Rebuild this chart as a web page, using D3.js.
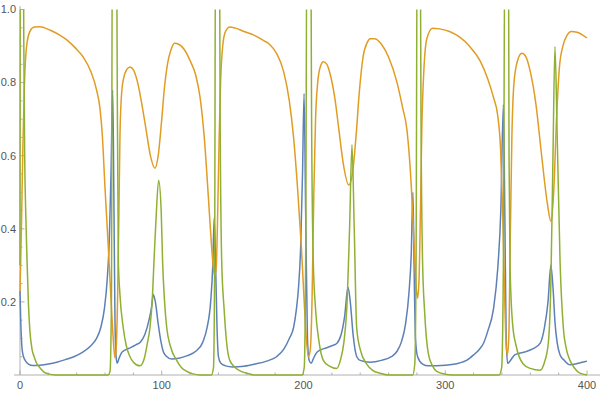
<!DOCTYPE html>
<html>
<head>
<meta charset="utf-8">
<script src="https://cdn.jsdelivr.net/npm/d3@7"></script>
<style>
  body { margin: 0; background: #fff; }
  svg { display: block; }
  .tick text { font-family: "Liberation Sans", Arial, sans-serif; font-size: 11px; fill: #555; }
</style>
</head>
<body>
<div id="container"></div>
<script>
var width = 600, height = 395;

// [t, value]
var orangeData = [[0,0.23],[1,0.40],[2,0.62],[3,0.78],[4,0.87],[5,0.91],[7,0.94],[10,0.952],[14,0.953],[21,0.944],[28,0.93],[33,0.917],[39,0.895],[44.6,0.87],[50,0.83],[54,0.78],[56.4,0.73],[58,0.66],[60,0.51],[62,0.37],[63.5,0.26],[65,0.15],[66.3,0.07],[67,0.047],[67.8,0.07],[68.8,0.2],[69.8,0.45],[70.5,0.65],[71.5,0.76],[73,0.81],[75.5,0.837],[77.6,0.843],[80,0.835],[83,0.8],[86,0.74],[89,0.67],[92,0.6],[95.2,0.566],[97.5,0.6],[100,0.7],[102,0.79],[104,0.85],[106.5,0.89],[109,0.908],[112,0.905],[116,0.89],[120,0.86],[124,0.82],[127,0.76],[130,0.65],[133,0.48],[135,0.36],[136.5,0.29],[137.5,0.27],[138.5,0.3],[139.5,0.45],[140.5,0.65],[141.5,0.8],[143,0.9],[145,0.94],[148,0.952],[152,0.949],[158,0.94],[165,0.93],[172,0.915],[176,0.905],[181,0.88],[186,0.83],[190,0.75],[193,0.65],[196,0.5],[198.5,0.35],[200.5,0.2],[202,0.1],[203.5,0.05],[204.8,0.07],[206,0.2],[207.3,0.5],[208.5,0.7],[210,0.8],[212,0.845],[214,0.857],[216.5,0.85],[219,0.82],[222,0.76],[225,0.67],[228,0.58],[232,0.52],[234.5,0.55],[237,0.65],[239.5,0.78],[242,0.87],[245,0.91],[247,0.92],[250,0.92],[255,0.905],[260,0.87],[266,0.8],[270,0.73],[273,0.67],[276,0.52],[278,0.36],[279.5,0.24],[280.5,0.21],[281.5,0.26],[282.5,0.45],[283.5,0.68],[285,0.84],[287,0.92],[291,0.949],[296,0.947],[303,0.94],[310,0.925],[317,0.9],[324.5,0.86],[330,0.81],[334,0.76],[337,0.71],[339,0.62],[340.5,0.45],[342,0.2],[343,0.08],[343.8,0.055],[344.8,0.1],[345.8,0.35],[347,0.65],[348.5,0.8],[351,0.86],[354,0.88],[357,0.87],[360,0.83],[364,0.74],[368,0.6],[372,0.47],[374.6,0.42],[376.5,0.5],[378.5,0.7],[380.5,0.84],[383,0.9],[386,0.93],[389,0.94],[393,0.938],[397,0.93],[400,0.922]];

var blueData = [[0,0.23],[0.5,0.15],[1,0.1],[1.5,0.07],[2.5,0.05],[4,0.038],[6,0.03],[9,0.026],[14,0.027],[20,0.03],[26,0.035],[32,0.042],[38,0.05],[44,0.062],[50,0.08],[54,0.1],[57,0.13],[59.5,0.18],[61.5,0.26],[63,0.37],[64.2,0.55],[65.4,0.78],[66.2,0.5],[67,0.15],[67.8,0.05],[68.6,0.032],[69.8,0.045],[71.5,0.06],[74,0.068],[78,0.075],[82,0.083],[85,0.09],[88,0.11],[91,0.15],[93,0.19],[94,0.22],[95.5,0.2],[97.5,0.14],[99.5,0.09],[101,0.065],[103,0.052],[107,0.044],[112,0.046],[118,0.053],[124,0.065],[129,0.09],[132,0.13],[134.5,0.2],[136,0.3],[137,0.43],[138,0.3],[139,0.13],[140,0.05],[141.5,0.033],[145,0.025],[150,0.022],[158,0.024],[166,0.03],[174,0.038],[181,0.05],[186,0.07],[190,0.1],[193,0.13],[195,0.18],[196.5,0.24],[198,0.35],[199.3,0.55],[200.4,0.77],[201.5,0.45],[202.8,0.1],[204,0.04],[205.4,0.032],[207,0.045],[209,0.06],[211.6,0.068],[216,0.074],[220,0.08],[223.6,0.087],[226.5,0.11],[229,0.16],[231.4,0.24],[233,0.2],[235,0.11],[237.6,0.05],[240,0.04],[247,0.035],[255,0.04],[262,0.05],[266,0.065],[269,0.09],[272,0.14],[274.5,0.23],[276,0.33],[277.2,0.5],[278,0.3],[279,0.1],[280.5,0.05],[284,0.03],[288,0.025],[300,0.027],[310,0.033],[315,0.04],[320,0.055],[324,0.07],[327,0.087],[330,0.12],[334,0.18],[337,0.29],[339.2,0.45],[341,0.74],[342,0.45],[343,0.1],[344,0.032],[346,0.04],[349,0.055],[353,0.06],[357,0.064],[362,0.072],[367,0.087],[370,0.13],[372.5,0.2],[374.5,0.3],[376,0.24],[377.5,0.14],[379,0.087],[381,0.055],[384,0.04],[388,0.028],[392,0.03],[396,0.034],[400,0.038]];

var greenData = [[0,0.3],[0.3,1.3],[2.2,1.3],[2.7,0.9],[3.3,0.6],[4,0.45],[5,0.31],[6,0.19],[7,0.12],[8.5,0.07],[10,0.05],[12,0.03],[14,0.02],[17,0.008],[20,0.003],[25,0],[62,0],[63.5,0.01],[64.5,0.2],[65.2,1.3],[68,1.3],[68.6,0.8],[69.4,0.31],[70.5,0.22],[72.8,0.13],[75,0.08],[77.6,0.05],[80,0.035],[84.7,0.025],[88,0.05],[90,0.09],[91.7,0.13],[93.5,0.22],[94.5,0.31],[96,0.43],[97.8,0.533],[99.6,0.45],[100.6,0.31],[102,0.2],[103.5,0.13],[106,0.08],[110.5,0.04],[114,0.02],[117.6,0.01],[122,0.003],[127,0],[135,0],[136.5,0.02],[137.3,0.3],[138,1.3],[140.6,1.3],[141.2,0.7],[142.3,0.31],[144,0.18],[146,0.08],[148,0.04],[152,0.02],[156,0.01],[160,0.005],[165,0],[199,0],[200.5,0.02],[201.5,0.3],[202.5,1.3],[205,1.3],[205.7,0.7],[206.9,0.31],[208.5,0.18],[211,0.09],[214,0.04],[218,0.025],[223.4,0.018],[226,0.04],[228.5,0.09],[230.5,0.18],[232.5,0.4],[234.2,0.63],[235.8,0.4],[237.5,0.13],[240,0.07],[244.6,0.03],[249,0.012],[254,0.005],[260,0],[277,0],[278.5,0.03],[279.4,0.3],[280.3,1.3],[282.2,1.3],[282.9,0.7],[284,0.31],[285.5,0.17],[288,0.06],[291,0.025],[294,0.01],[300,0.002],[305,0],[338,0],[339.8,0.02],[341,0.3],[342.2,1.3],[344.5,1.3],[345,0.6],[345.7,0.3],[347.5,0.14],[350,0.08],[355,0.03],[360,0.018],[366.8,0.013],[370,0.035],[372.7,0.087],[374.5,0.25],[376,0.6],[377.4,0.898],[379,0.65],[381,0.31],[383.3,0.13],[385.5,0.07],[388,0.04],[391,0.02],[395,0.005],[400,0]];

var xTicks = [0, 100, 200, 300, 400];
var yTicks = [0.2, 0.4, 0.6, 0.8, 1.0];

var x = d3.scaleLinear().domain([0, 400]).range([20, 587]);
var y = d3.scaleLinear().domain([0, 1]).range([375, 9.5]);

var svg = d3.select("#container").append("svg")
  .attr("width", width)
  .attr("height", height);

svg.append("defs").append("clipPath").attr("id", "plotclip")
  .append("rect")
  .attr("x", 0).attr("y", y(1))
  .attr("width", width).attr("height", y(0) - y(1) + 20);

// axes (Mathematica style, ticks pointing inward)
var axisColor = "#b0b0b0";
var xAxis = svg.append("g").attr("transform", "translate(0," + y(0) + ")");
xAxis.append("line").attr("x1", 14).attr("x2", width).attr("stroke", axisColor);
xAxis.selectAll(".minor").data(d3.range(20, 400, 20).filter(d => d % 100 != 0))
  .enter().append("line")
  .attr("x1", d => x(d)).attr("x2", d => x(d)).attr("y1", 0).attr("y2", -2.5)
  .attr("stroke", axisColor);
var xt = xAxis.selectAll(".tick").data(xTicks).enter().append("g").attr("class", "tick")
  .attr("transform", d => "translate(" + x(d) + ",0)");
xt.append("line").attr("y1", 0).attr("y2", -4.5).attr("stroke", axisColor);
xt.append("text").attr("y", 14).attr("text-anchor", "middle").text(d => d);

var yAxis = svg.append("g").attr("transform", "translate(" + x(0) + ",0)");
yAxis.append("line").attr("y1", y(0)).attr("y2", 6).attr("stroke", axisColor);
yAxis.selectAll(".minor").data(d3.range(0.05, 1.0, 0.05).filter(d => Math.abs(d * 5 - Math.round(d * 5)) > 1e-6))
  .enter().append("line")
  .attr("y1", d => y(d)).attr("y2", d => y(d)).attr("x1", 0).attr("x2", 2.5)
  .attr("stroke", axisColor);
var yt = yAxis.selectAll(".tick").data(yTicks).enter().append("g").attr("class", "tick")
  .attr("transform", d => "translate(0," + y(d) + ")");
yt.append("line").attr("x1", 0).attr("x2", 4.5).attr("stroke", axisColor);
yt.append("text").attr("x", -4).attr("dy", "0.35em").attr("text-anchor", "end").text(d => d3.format(".1f")(d));

var line = d3.line()
  .x(d => x(d[0]))
  .y(d => y(d[1]))
  .curve(d3.curveMonotoneX);

var plot = svg.append("g").attr("clip-path", "url(#plotclip)");
var series = [
  {data: blueData, color: "#5E81B5"},
  {data: orangeData, color: "#E19C24"},
  {data: greenData, color: "#8FB032"}
];
plot.selectAll("path").data(series).enter().append("path")
  .attr("d", d => line(d.data))
  .attr("fill", "none")
  .attr("stroke", d => d.color)
  .attr("stroke-width", 1.5)
  .attr("stroke-linejoin", "round");
</script>
</body>
</html>
